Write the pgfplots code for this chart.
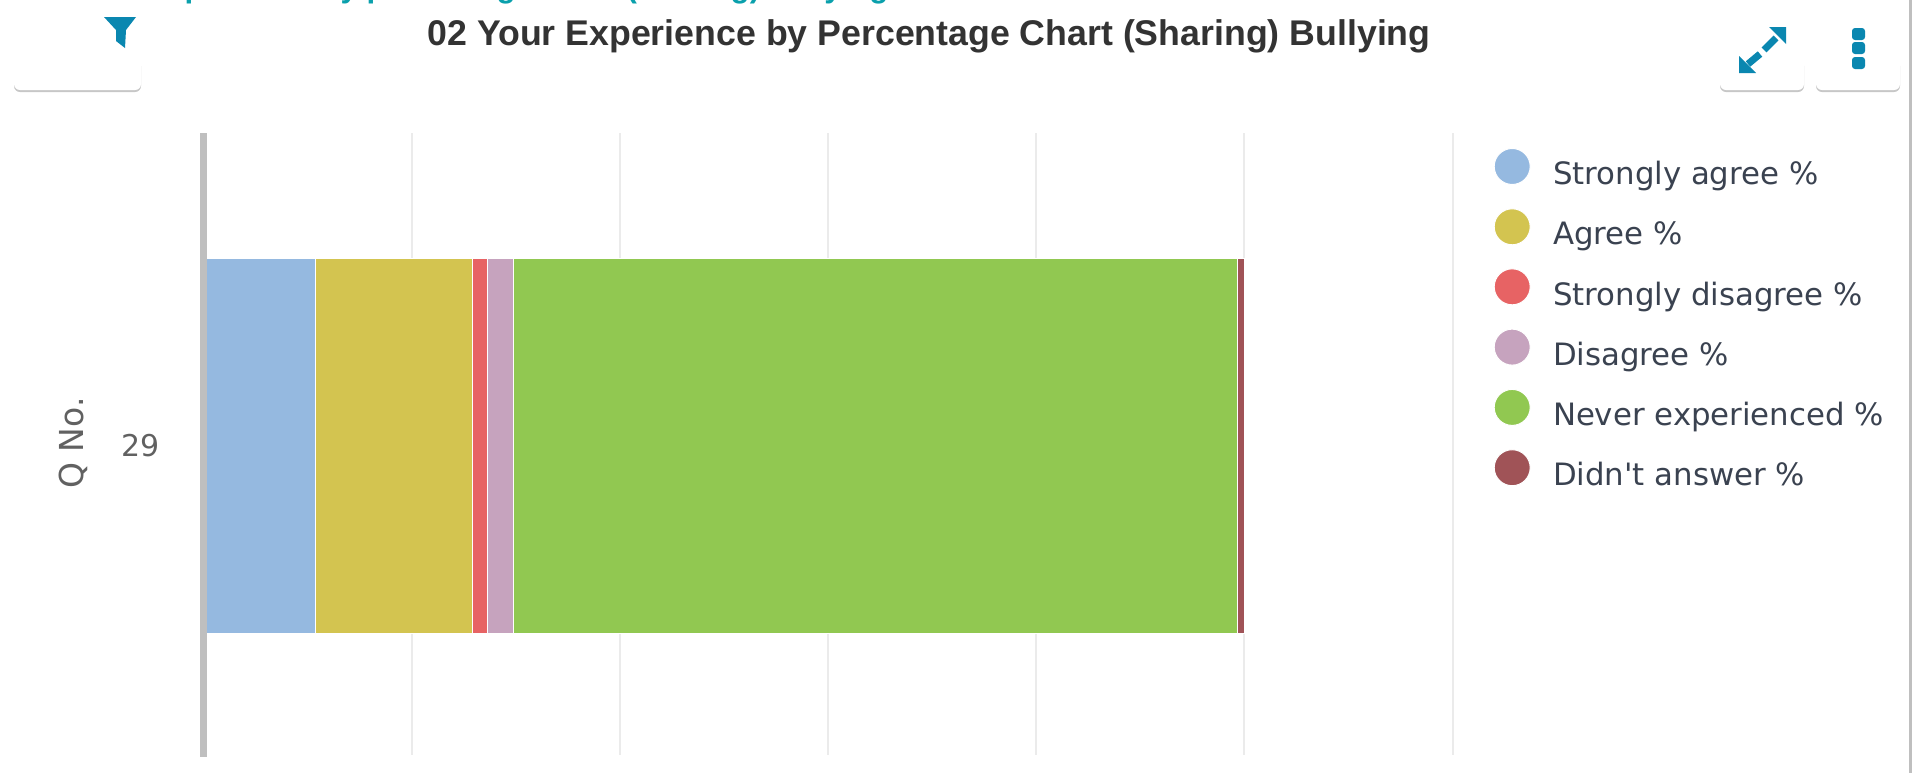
\documentclass[border=0pt]{standalone}
\usepackage{pgfplots}
\usepackage{fontspec}
\pgfplotsset{compat=1.18}
\setmainfont{DejaVu Sans}
\newfontfamily\legendfont[Ligatures=ResetAll]{DejaVu Sans}
\newfontfamily\titlefont{Liberation Sans}
\definecolor{cA}{HTML}{95B9E0}
\definecolor{cB}{HTML}{D3C450}
\definecolor{cC}{HTML}{E76364}
\definecolor{cD}{HTML}{C6A3BE}
\definecolor{cE}{HTML}{91C851}
\definecolor{cF}{HTML}{A05357}
\definecolor{teal1}{HTML}{0A87B0}
\definecolor{teal2}{HTML}{0AA0AC}
\definecolor{txt}{HTML}{3A4250}
\begin{document}
\begin{tikzpicture}
\useasboundingbox (0pt,0pt) rectangle (956pt,-386.5pt);
\begin{axis}[
  at={(103pt,-377.5pt)},anchor=south west,
  scale only axis,width=623.5pt,height=311pt,
  xbar stacked,bar width=187.5pt,
  xmin=0,xmax=120,ymin=0,ymax=2.013,
  xtick={19.8,39.8,59.9,79.9,99.85,120},xticklabels={},
  ytick={1},yticklabels={29},
  axis lines=left,
  axis line style={draw=none,-},
  xmajorgrids,grid style={draw=black!8,line width=1pt},
  major tick length=0pt,
  yticklabel style={font=\fontsize{15}{15}\selectfont,text=black!62,xshift=-19.5pt},
  ylabel={Q No.},ylabel style={font=\fontsize{16.5}{16.5}\selectfont,text=black!62,at={(axis description cs:-0.1067,0.5016)},anchor=center},
  clip=false,
  legend style={draw=none,fill=none,at={(1.0275,0.983)},anchor=north west,row sep=8.3pt,
    font=\legendfont\fontsize{15.4}{15.4}\selectfont,text=txt,
    /tikz/every odd column/.append style={column sep=9.15pt}},
  legend cell align=left,
  legend image code/.code={\fill[#1] (0pt,4pt) circle (9pt);},
]
\addplot+[fill=cA,draw=white,line width=0.5pt] coordinates {(10.5,1)};
\addplot+[fill=cB,draw=white,line width=0.5pt] coordinates {(15.1,1)};
\addplot+[fill=cC,draw=white,line width=0.5pt] coordinates {(1.45,1)};
\addplot+[fill=cD,draw=white,line width=0.5pt] coordinates {(2.55,1)};
\addplot+[fill=cE,draw=white,line width=0.5pt] coordinates {(69.7,1)};
\addplot+[fill=cF,draw=white,line width=0.5pt] coordinates {(0.6,1)};
\legend{Strongly agree \%,Agree \%,Strongly disagree \%,Disagree \%,Never experienced \%,Didn't answer \%}
\end{axis}
\begin{scope}[x=0.5pt,y=-0.5pt]
\begin{scope}
\clip (0,0) rectangle (1912,4);
\node[anchor=base west,inner sep=0pt,font=\titlefont\bfseries\fontsize{15.6}{15.6}\selectfont,text=teal2] at (146,-3) {Experience by percentage chart (sharing) bullying};
\end{scope}
\fill[black!22,rounded corners=3pt] (14,60) rectangle (141,92);
\fill[white,rounded corners=3pt] (14,10) rectangle (141,90);
\fill[teal1] (104,17) -- (136,17) -- (126,30) -- (125,48) -- (116,41) -- (116,30) -- cycle;
\fill[black!22,rounded corners=3pt] (1720,60) rectangle (1804,92);
\fill[white,rounded corners=3pt] (1720,10) rectangle (1804,90);
\fill[black!22,rounded corners=3pt] (1816,60) rectangle (1900,92);
\fill[white,rounded corners=3pt] (1816,10) rectangle (1900,90);
\draw[teal1,line width=3.5pt] (1748,64) -- (1760,54);
\draw[teal1,line width=3.5pt] (1764,50) -- (1776,38);
\fill[teal1] (1739,73) -- (1739,56) -- (1756,73) -- cycle;
\fill[teal1] (1786,27) -- (1786,44) -- (1769,27) -- cycle;
\foreach \y in {34,48,63}{\fill[teal1,rounded corners=1.5pt] (1852,\y-6) rectangle (1865,\y+6);}
\fill[black!25] (1909,0) rectangle (1912,773);
\node[anchor=base,inner sep=0pt,font=\titlefont\bfseries\fontsize{17.85}{17.85}\selectfont,text=black!80] at (929,45) {02 Your Experience by Percentage Chart (Sharing) Bullying};
\fill[black!25] (200,133) rectangle (207,757);
\end{scope}
\end{tikzpicture}
\end{document}
